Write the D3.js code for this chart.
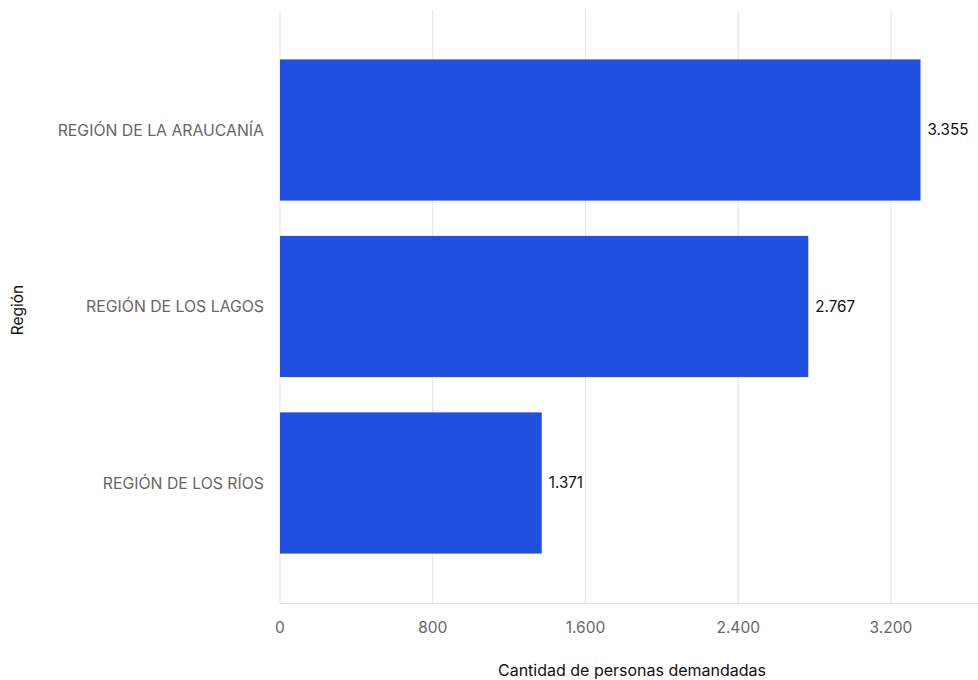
<!DOCTYPE html>
<html><head><meta charset="utf-8">
<script src="https://cdn.jsdelivr.net/npm/d3@7"></script>
<style>body{margin:0;background:#fff;font-family:Inter,"Noto Sans",sans-serif;}</style>
</head><body>
<svg id="c" width="978" height="680"></svg>
<script>
const categories = ["REGIÓN DE LA ARAUCANÍA", "REGIÓN DE LOS LAGOS", "REGIÓN DE LOS RÍOS"];
const values = [3355, 2767, 1371];
const tickValues = [0, 800, 1600, 2400, 3200];
const tickLabels = ["0", "800", "1.600", "2.400", "3.200"];
const valueLabels = ["3.355", "2.767", "1.371"];

(function () {
const svg = d3.select("#c");
const mLeft = 280, mRight = 978, mTop = 10, mBottom = 603;
const x = d3.scaleLinear().domain([0, 3656]).range([mLeft, mRight]);
const y = d3.scaleBand().domain(categories).range([mTop, mBottom]).paddingInner(0.2).paddingOuter(0.28);

// gridlines
svg.append("g").selectAll("line").data(tickValues).join("line")
  .attr("x1", d => x(d)).attr("x2", d => x(d))
  .attr("y1", mTop).attr("y2", mBottom)
  .attr("stroke", "#e3e3e3").attr("stroke-width", 1);

// baseline
svg.append("line").attr("x1", mLeft).attr("x2", mRight).attr("y1", mBottom + 0.5).attr("y2", mBottom + 0.5)
  .attr("stroke", "#dcdcdc");

// bars
svg.append("g").selectAll("rect").data(values).join("rect")
  .attr("x", x(0)).attr("y", (d, i) => y(categories[i]))
  .attr("width", d => x(d) - x(0)).attr("height", y.bandwidth())
  .attr("fill", "#2150e0");

// value labels
svg.append("g").selectAll("text").data(values).join("text")
  .attr("x", d => x(d) + 7).attr("y", (d, i) => y(categories[i]) + y.bandwidth() / 2)
  .attr("dy", "0.35em").attr("font-size", 15.2).attr("fill", "#111")
  .text((d, i) => valueLabels[i]);

// category labels
svg.append("g").selectAll("text").data(categories).join("text")
  .attr("x", 264).attr("y", d => y(d) + y.bandwidth() / 2)
  .attr("dy", "0.35em").attr("text-anchor", "end").attr("font-size", 15.8).attr("fill", "#666")
  .text(d => d);

// tick labels
svg.append("g").selectAll("text").data(tickValues).join("text")
  .attr("x", d => x(d)).attr("y", 628).attr("dy", "0.35em")
  .attr("text-anchor", "middle").attr("font-size", 15.5).attr("fill", "#666")
  .text((d, i) => tickLabels[i]);

// axis titles
svg.append("text").attr("x", 632).attr("y", 670).attr("dy", "0.35em")
  .attr("text-anchor", "middle").attr("font-size", 16).attr("fill", "#111")
  .text("Cantidad de personas demandadas");
svg.append("text").attr("transform", "translate(18,310) rotate(-90)").attr("dy", "0.35em")
  .attr("text-anchor", "middle").attr("font-size", 15.5).attr("fill", "#111")
  .text("Región");
})();
</script>
</body></html>
